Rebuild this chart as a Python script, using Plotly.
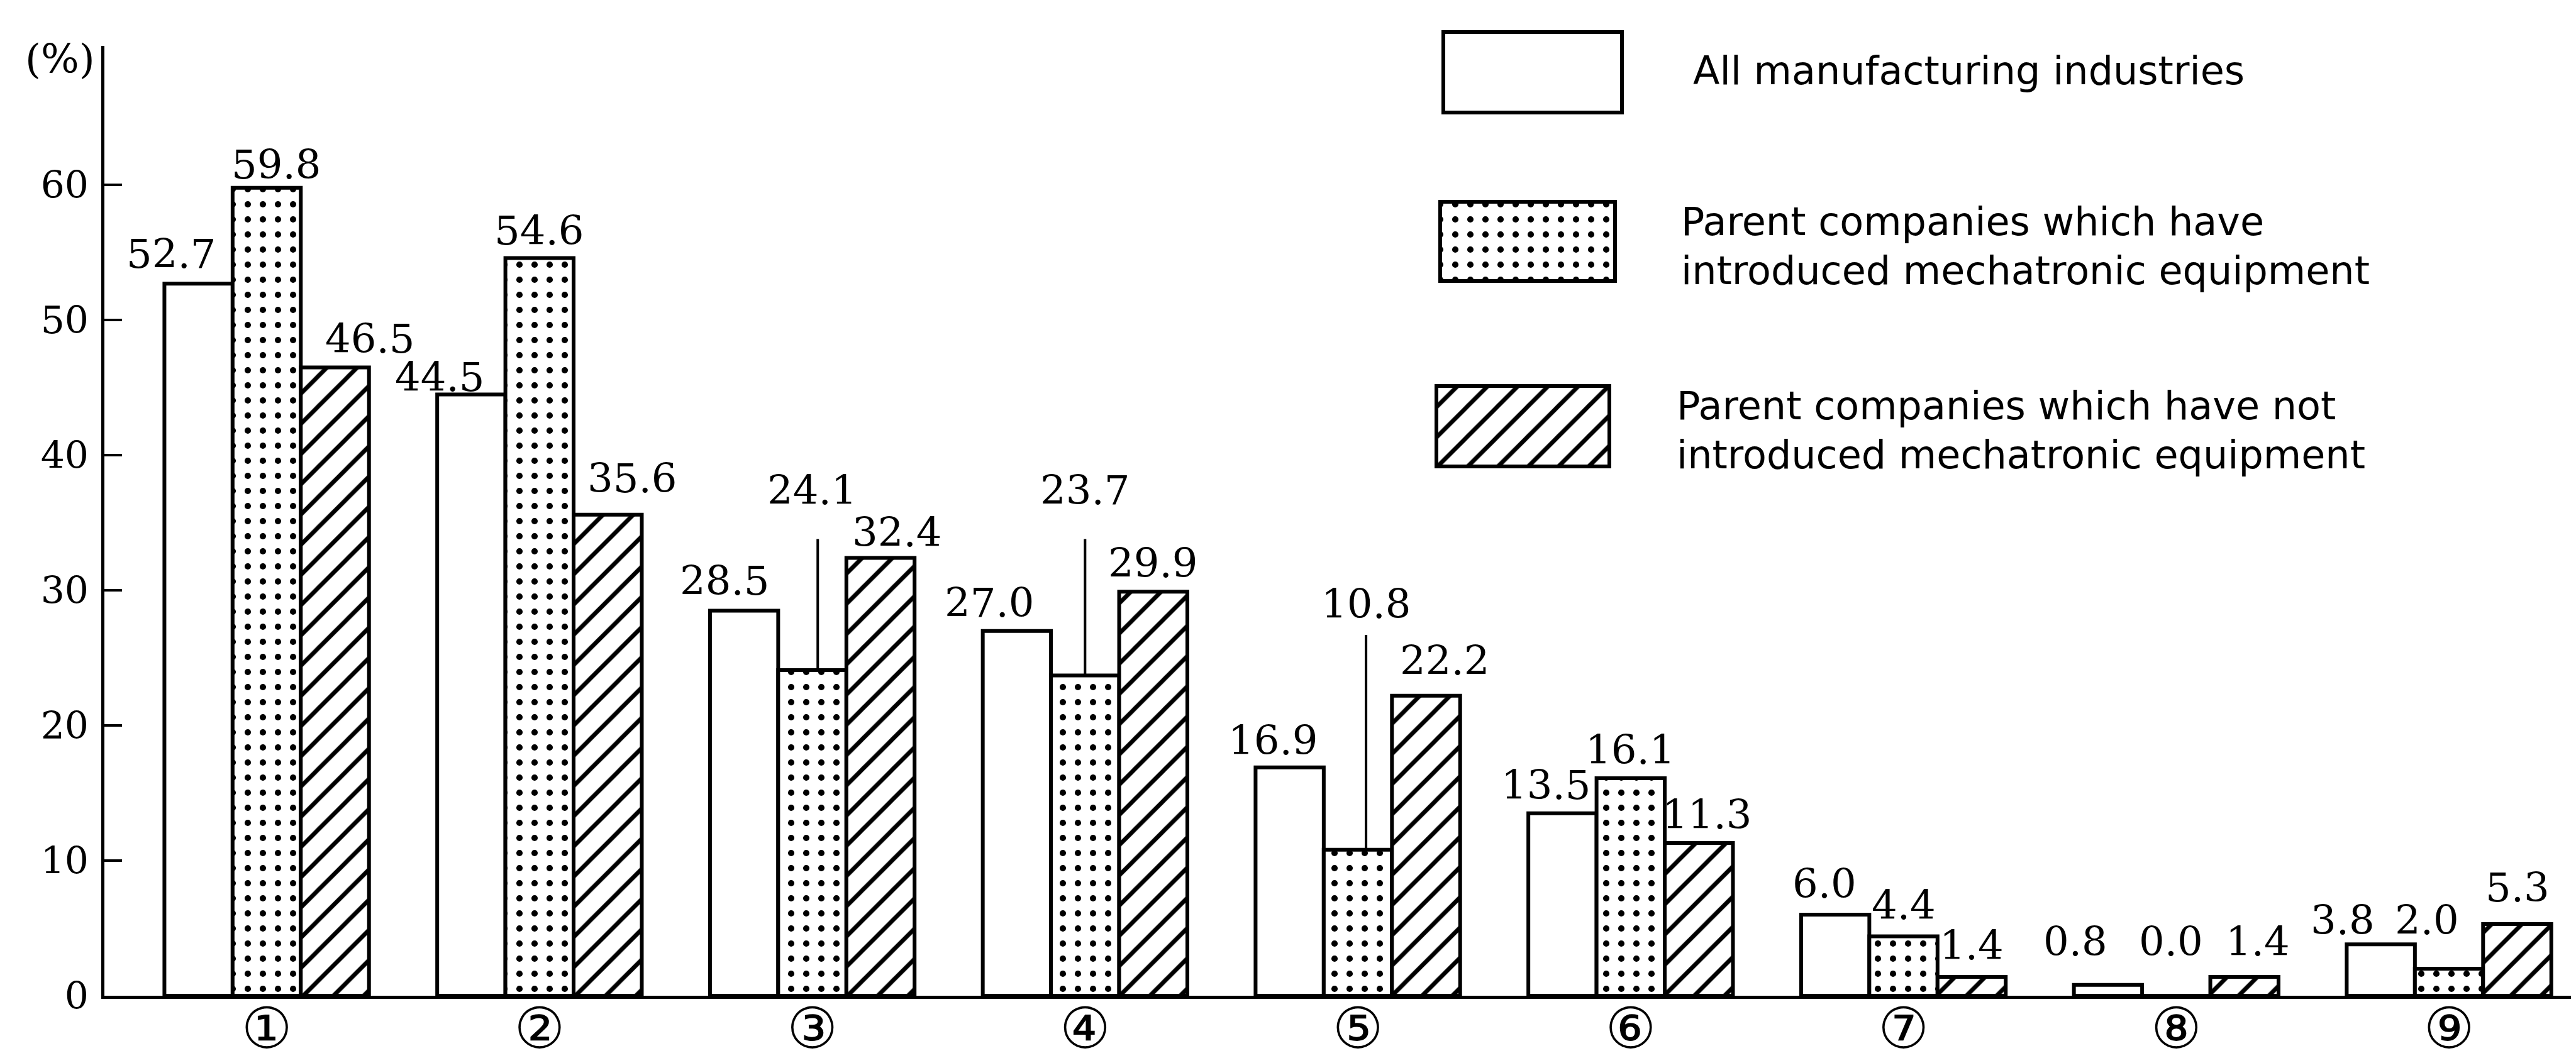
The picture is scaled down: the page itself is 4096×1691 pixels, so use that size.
import plotly.graph_objects as go

# ---------------- data ----------------
categories = [1, 2, 3, 4, 5, 6, 7, 8, 9]
category_labels = ["①", "②", "③", "④", "⑤", "⑥", "⑦", "⑧", "⑨"]
all_manufacturing = [52.7, 44.5, 28.5, 27.0, 16.9, 13.5, 6.0, 0.8, 3.8]
introduced = [59.8, 54.6, 24.1, 23.7, 10.8, 16.1, 4.4, 0.0, 2.0]
not_introduced = [46.5, 35.6, 32.4, 29.9, 22.2, 11.3, 1.4, 1.4, 5.3]
y_tick_values = [0, 10, 20, 30, 40, 50, 60]
legend_lines = [
    ["All manufacturing industries"],
    ["Parent companies which have", "introduced mechatronic equipment"],
    ["Parent companies which have not", "introduced mechatronic equipment"],
]

# ---------------- layout constants ----------------
W, H = 4096, 1691
ML, MR, MT, MB = 158, 0, 65, 115
X_RANGE = [0.405, 9.484]
Y_RANGE = [0, 70.3]
BAR_OFF = 0.25  # offset of the side bars inside a group (bargap 0.25)

# label placement: (dx in category units, dy in value units)
white_dx = [-0.10, -0.115, -0.07, -0.10, -0.06, -0.06, -0.04, -0.12, -0.14]
white_dy = [2.2, 1.3, 2.2, 2.1, 2.0, 2.1, 2.3, 3.2, 1.8]
dot_dx = [0.035, 0.0, 0.0, 0.0, 0.03, 0.0, 0.0, -0.02, -0.08]
dot_dy = [1.7, 2.0, None, None, None, 2.1, 2.3, 4.0, 3.6]
hatch_dx = [0.13, 0.09, 0.06, 0.0, 0.07, 0.03, 0.0, 0.05, 0.0]
hatch_dy = [2.1, 2.7, 1.9, 2.1, 2.6, 2.1, 2.3, 2.6, 2.7]
# leader-line labels for dotted bars: index -> (label y, line top y, line dx)
leaders = {2: (37.4, 33.8, 0.02), 3: (37.4, 33.8, 0.0), 4: (29.0, 26.7, 0.03)}

LINE_W = 6
VAL_FONT = dict(family="DejaVu Serif", size=64, color="black")

PAT_SIZE = {"": 10, ".": 24, "/": 34}
PAT_SOLID = {"": 0.2, ".": 0.14, "/": 0.2}

def px_to_paper(px, py):
    return (px - ML) / (W - ML - MR), (H - MB - py) / (H - MT - MB)

fig = go.Figure()

series = [(all_manufacturing, ""), (introduced, "."), (not_introduced, "/")]
names = [" ".join(l) for l in legend_lines]

for (vals, shape), nm in zip(series, names):
    fig.add_trace(go.Bar(
        x=categories, y=vals, name=nm, showlegend=False,
        marker=dict(color="white",
                    line=dict(color="black", width=LINE_W),
                    pattern=dict(shape=shape, fgcolor="black", bgcolor="white",
                                 size=PAT_SIZE[shape], solidity=PAT_SOLID[shape])),
    ))

annotations = []
shapes = []

def add_label(x, y, v):
    annotations.append(dict(x=x, y=y, xref="x", yref="y", text=f"{v:.1f}",
                            showarrow=False, font=VAL_FONT,
                            xanchor="center", yanchor="middle"))

for i, c in enumerate(categories):
    add_label(c - BAR_OFF + white_dx[i], all_manufacturing[i] + white_dy[i], all_manufacturing[i])
    if i in leaders:
        ly, top, ldx = leaders[i]
        add_label(c + dot_dx[i], ly, introduced[i])
        shapes.append(dict(type="line", xref="x", yref="y",
                           x0=c + ldx, x1=c + ldx, y0=introduced[i], y1=top,
                           line=dict(color="black", width=4)))
    else:
        add_label(c + dot_dx[i], introduced[i] + dot_dy[i], introduced[i])
    add_label(c + BAR_OFF + hatch_dx[i], not_introduced[i] + hatch_dy[i], not_introduced[i])

# ---------------- custom legend ----------------
# plain box (above the plot area) as a shape
bx0, by0 = px_to_paper(2287, 43)
bx1, by1 = px_to_paper(2571, 171)
shapes.append(dict(type="rect", xref="paper", yref="paper",
                   x0=bx0, x1=bx1, y0=by1, y1=by0,
                   line=dict(color="black", width=LINE_W), fillcolor="white"))
# patterned boxes drawn as bars on pixel axes x2/y2
box_left = [2282, 2276]
box_width = [278, 275]
box_center = [376, 670]
box_height = [126, 128]
shape_list = [".", "/"]
fig.add_trace(go.Bar(
    orientation="h", x=box_width, base=box_left, y=box_center, width=box_height,
    xaxis="x2", yaxis="y2", showlegend=False, hoverinfo="skip",
    marker=dict(color="white", line=dict(color="black", width=LINE_W),
                pattern=dict(shape=shape_list, fgcolor="black", bgcolor="white",
                             size=[PAT_SIZE[s] for s in shape_list],
                             solidity=[PAT_SOLID[s] for s in shape_list])),
))

LEG_FONT = dict(family="DejaVu Sans", size=62, color="black")
text_left = [2682, 2663, 2656]
text_y = [[104], [344, 422], [637, 715]]
for lines, lx, ys in zip(legend_lines, text_left, text_y):
    for t, yy in zip(lines, ys):
        xp, yp = px_to_paper(lx, yy)
        annotations.append(dict(x=xp, y=yp, xref="paper", yref="paper", text=t,
                                showarrow=False, font=LEG_FONT,
                                xanchor="left", yanchor="middle"))

xp, yp = px_to_paper(87, 86)
annotations.append(dict(x=xp, y=yp, xref="paper", yref="paper", text="(%)",
                        showarrow=False,
                        font=dict(family="DejaVu Serif", size=64, color="black"),
                        xanchor="center", yanchor="middle"))

fig.update_layout(
    template="none",
    width=W, height=H,
    margin=dict(l=ML, r=MR, t=MT, b=MB, pad=0, autoexpand=False),
    paper_bgcolor="white", plot_bgcolor="rgba(0,0,0,0)",
    barmode="group", bargap=0.25, bargroupgap=0,
    showlegend=False,
    annotations=annotations, shapes=shapes,
    xaxis=dict(range=X_RANGE, tickvals=categories, ticktext=category_labels,
               showline=True, linecolor="black", linewidth=5, automargin=False,
               ticks="", ticklen=0, showgrid=False, zeroline=False,
               tickfont=dict(family="DejaVu Sans, Noto Sans CJK JP", size=90, color="black"),
               ticklabelstandoff=-30),
    yaxis=dict(range=Y_RANGE, tickvals=y_tick_values, automargin=False,
               showline=True, linecolor="black", linewidth=5,
               ticks="inside", ticklen=28, tickwidth=4, tickcolor="black",
               showgrid=False, zeroline=False,
               tickfont=dict(family="DejaVu Serif", size=60, color="black"),
               ticklabelstandoff=8),
    xaxis2=dict(range=[ML, W - MR], overlaying="x", visible=False, anchor="y2",
                automargin=False),
    yaxis2=dict(range=[H - MB, MT], overlaying="y", visible=False, anchor="x2",
                automargin=False),
)

fig.write_html("out.html")
